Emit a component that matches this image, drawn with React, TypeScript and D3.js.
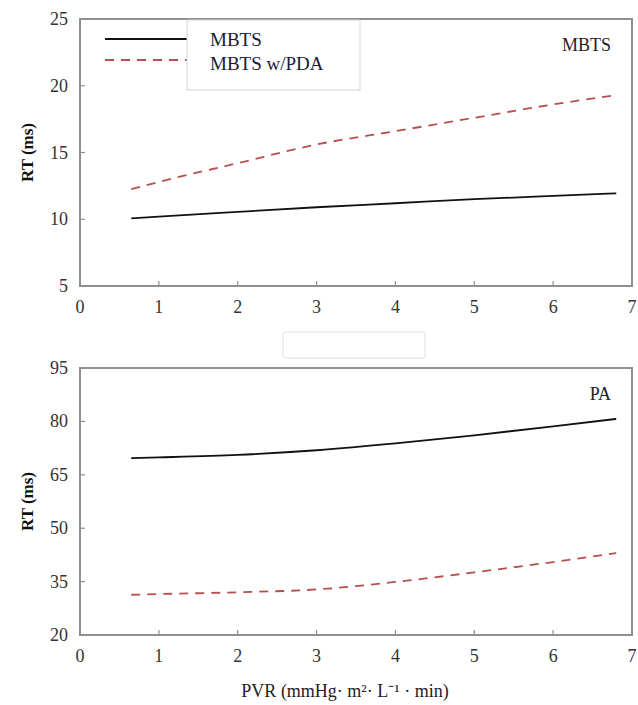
import * as d3 from 'd3';

// PVR values sampled along the curves
const pvr = [0.65, 1, 2, 3, 4, 5, 6, 6.8];

// Top panel (MBTS)
const mbtsTop = [10.07, 10.2, 10.55, 10.9, 11.2, 11.5, 11.75, 11.94];
const mbtsPdaTop = [12.25, 12.8, 14.2, 15.6, 16.6, 17.6, 18.6, 19.3];

// Bottom panel (PA)
const mbtsBottom = [69.7, 69.9, 70.6, 71.9, 73.8, 76.1, 78.6, 80.7];
const mbtsPdaBottom = [31.3, 31.5, 32.0, 32.8, 34.9, 37.6, 40.5, 43.0];

const xTicks = [0, 1, 2, 3, 4, 5, 6, 7];
const yTicksTop = [5, 10, 15, 20, 25];
const yTicksBottom = [20, 35, 50, 65, 80, 95];

const seriesNames = ['MBTS', 'MBTS w/PDA'];

const font = '"Liberation Serif", "Times New Roman", serif';
const frame = '#8f8f8f';
const dashColor = '#b5504f';

type PanelProps = {
  top: number;
  bottom: number;
  domain: [number, number];
  yTicks: number[];
  solid: number[];
  dashed: number[];
  tag: string;
};

const left = 80;
const right = 632;

function Panel({ top, bottom, domain, yTicks, solid, dashed, tag }: PanelProps) {
  const x = d3.scaleLinear().domain([0, 7]).range([left, right]);
  const y = d3.scaleLinear().domain(domain).range([bottom, top]);
  const line = d3
    .line<number>()
    .x((_, i) => x(pvr[i]))
    .y((d) => y(d))
    .curve(d3.curveMonotoneX);

  return (
    <g>
      <rect x={left} y={top} width={right - left} height={bottom - top} fill="none" stroke={frame} strokeWidth={2} />
      {xTicks.slice(1, -1).map((t) => (
        <line key={'xt' + t} x1={x(t)} x2={x(t)} y1={bottom} y2={bottom - 5} stroke={frame} strokeWidth={1.2} />
      ))}
      {yTicks.slice(1, -1).map((t) => (
        <line key={'yt' + t} x1={left} x2={left + 5} y1={y(t)} y2={y(t)} stroke={frame} strokeWidth={1.2} />
      ))}
      {xTicks.map((t) => (
        <text key={'xl' + t} x={x(t)} y={bottom + 27} textAnchor="middle" fontFamily={font} fontSize={18} fill="#333">
          {t}
        </text>
      ))}
      {yTicks.map((t) => (
        <text key={'yl' + t} x={left - 12} y={y(t) + 6} textAnchor="end" fontFamily={font} fontSize={18} fill="#333">
          {t}
        </text>
      ))}
      <text
        transform={`translate(33,${(top + bottom) / 2}) rotate(-90)`}
        textAnchor="middle"
        fontFamily={font}
        fontSize={17}
        fontWeight="bold"
        fill="#111"
      >
        RT (ms)
      </text>
      <path d={line(solid) || ''} fill="none" stroke="#111" strokeWidth={1.8} />
      <path d={line(dashed) || ''} fill="none" stroke={dashColor} strokeWidth={1.8} strokeDasharray="9,7" />
      <text x={611} y={top + 32} textAnchor="end" fontFamily={font} fontSize={18} fill="#222">
        {tag}
      </text>
    </g>
  );
}

export default function App() {
  return (
    <svg width={638} height={705} style={{ position: 'absolute', left: 0, top: 0, background: '#fff' }}>
      <Panel top={19} bottom={286} domain={[5, 25]} yTicks={yTicksTop} solid={mbtsTop} dashed={mbtsPdaTop} tag="MBTS" />
      <Panel top={368} bottom={635} domain={[20, 95]} yTicks={yTicksBottom} solid={mbtsBottom} dashed={mbtsPdaBottom} tag="PA" />

      {/* legend */}
      <line x1={105} x2={187} y1={39} y2={39} stroke="#111" strokeWidth={1.8} />
      <line x1={105} x2={187} y1={60} y2={60} stroke={dashColor} strokeWidth={1.8} strokeDasharray="9,7" />
      <rect x={187} y={20} width={173} height={70} fill="#fff" stroke="#d4d4d4" strokeWidth={1} />
      {seriesNames.map((n, i) => (
        <text key={n} x={210} y={46 + i * 24} fontFamily={font} fontSize={19} fill="#1a1a33">
          {n}
        </text>
      ))}

      {/* empty caption box between panels */}
      <rect x={283} y={332} width={142} height={26} rx={3} fill="#fff" stroke="#e0e0e0" strokeWidth={1} />

      <text x={345} y={697} textAnchor="middle" fontFamily={font} fontSize={18} fill="#222">
        PVR (mmHg· m²· L⁻¹ · min)
      </text>
    </svg>
  );
}
